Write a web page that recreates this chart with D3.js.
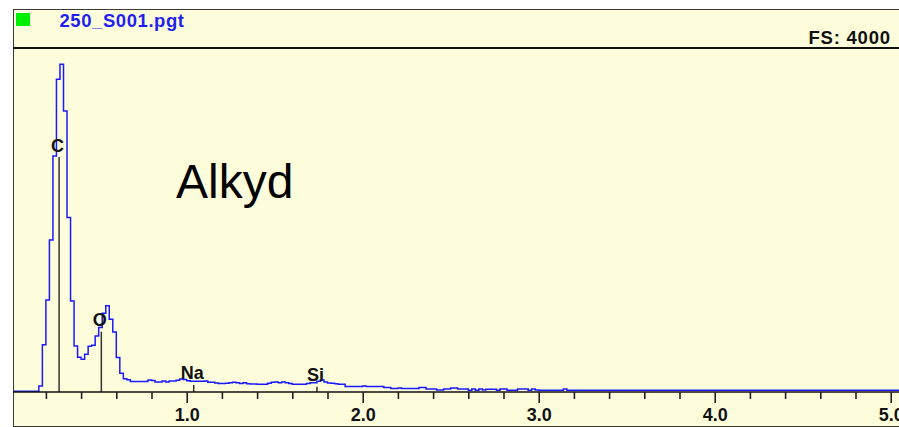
<!DOCTYPE html>
<html>
<head>
<meta charset="utf-8">
<script src="https://cdn.jsdelivr.net/npm/d3@7"></script>
<style>
  html, body { margin: 0; padding: 0; background: #ffffff; }
  svg { display: block; }
</style>
</head>
<body>
<div id="chart"></div>
<script>
// ---------------- DATA ----------------
const fileName = "250_S001.pgt";
const fullScaleLabel = "FS: 4000";
const annotation = "Alkyd";
const channelWidth = 0.02; // keV per channel
// counts per 20 eV channel, starting at 0 keV
const counts = [
  0, 0, 0, 0, 0, 0, 0, 0, 62, 542,
  1065, 1764, 2744, 3638, 3813, 3268, 2025, 1053, 528, 396,
  373, 431, 525, 536, 645, 743, 909, 997, 840, 691,
  393, 210, 146, 134, 113, 113, 113, 113, 113, 130,
  126, 108, 108, 120, 108, 120, 120, 128, 143, 135,
  122, 117, 117, 117, 117, 120, 104, 104, 95, 90,
  90, 93, 100, 104, 100, 90, 100, 88, 85, 85,
  82, 82, 82, 93, 105, 108, 100, 108, 100, 90,
  82, 82, 82, 82, 90, 100, 100, 115, 130, 108,
  95, 93, 88, 82, 82, 55, 55, 55, 55, 55,
  62, 55, 55, 55, 55, 55, 43, 43, 31, 31,
  38, 31, 31, 31, 31, 31, 43, 43, 27, 27,
  27, 15, 15, 27, 27, 38, 38, 27, 27, 27,
  12, 27, 12, 27, 15, 23, 23, 23, 12, 27,
  27, 12, 12, 12, 27, 27, 27, 12, 27, 15,
  12, 12, 12, 12, 12, 12, 12, 27, 12, 12,
  12, 12, 12, 12, 12, 12, 12, 12, 12, 12,
  12, 12, 12, 12, 12, 12, 12, 12, 12, 12,
  12, 12, 12, 12, 12, 12, 12, 12, 12, 12,
  12, 12, 12, 12, 12, 12, 12, 12, 12, 12,
  12, 12, 12, 12, 12, 12, 12, 12, 12, 12,
  12, 12, 12, 12, 12, 12, 12, 12, 12, 12,
  12, 12, 12, 12, 12, 12, 12, 12, 12, 12,
  12, 12, 12, 12, 12, 12, 12, 12, 12, 12,
  12, 12, 12, 12, 12, 12, 12, 12, 12, 12,
  12, 12, 12
];
const markerNames = ["C", "O", "Na", "Si"];
const markerEnergies = [0.275, 0.515, 1.04, 1.74];
const markerHeights = [2740, 703, 82, 60];
const majorTicks = [1, 2, 3, 4, 5];
const majorTickLabels = ["1.0", "2.0", "3.0", "4.0", "5.0"];
const minorTicks = [0.2, 0.4, 0.6, 0.8, 1.2, 1.4, 1.6, 1.8, 2.2, 2.4, 2.6, 2.8,
                    3.2, 3.4, 3.6, 3.8, 4.2, 4.4, 4.6, 4.8];
const fullScale = 4000;

// ---------------- LAYOUT ----------------
const W = 899, H = 427;
const frameL = 13, frameT = 9, frameB = 426;
const headerLineY = 48;
const baseY = 392;
const bg = "#fdfddc";

const svg = d3.select("#chart").append("svg")
  .attr("width", W).attr("height", H);

svg.append("rect").attr("x", 0).attr("y", 0).attr("width", W).attr("height", H)
  .attr("fill", "#ffffff");

// frame
svg.append("rect")
  .attr("x", frameL + 0.5).attr("y", frameT + 0.5)
  .attr("width", W + 10).attr("height", frameB - frameT)
  .attr("fill", bg).attr("stroke", "#3a3a3a").attr("stroke-width", 1);

// header separator
svg.append("line")
  .attr("x1", frameL).attr("x2", W).attr("y1", headerLineY).attr("y2", headerLineY)
  .attr("stroke", "#111").attr("stroke-width", 2);

// green indicator
svg.append("rect").attr("x", 16).attr("y", 13).attr("width", 14).attr("height", 13)
  .attr("fill", "#00f000");

const fontFam = "Arial, 'Liberation Sans', Helvetica, sans-serif";

svg.append("text")
  .attr("x", 59.5).attr("y", 26.7)
  .attr("font-family", fontFam).attr("font-weight", "bold").attr("font-size", 18.5)
  .attr("fill", "#1f1ff0")
  .attr("textLength", 124.5).attr("lengthAdjust", "spacing")
  .text(fileName);

svg.append("text")
  .attr("x", 808.5).attr("y", 44)
  .attr("font-family", fontFam).attr("font-weight", "bold").attr("font-size", 18.5)
  .attr("fill", "#111")
  .attr("textLength", 81.5).attr("lengthAdjust", "spacing")
  .text(fullScaleLabel);

// scales
const x = d3.scaleLinear().domain([0, 5]).range([10.7, 890.7]);
const y = d3.scaleLinear().domain([0, fullScale]).range([baseY, headerLineY + 1]);

// clip for plot region
svg.append("defs").append("clipPath").attr("id", "plotclip")
  .append("rect").attr("x", frameL + 1).attr("y", headerLineY + 1)
  .attr("width", W - frameL).attr("height", baseY - headerLineY + 2);

// spectrum step trace
const pts = counts.map((c, i) => ({ e: i * channelWidth, c: c }));
pts.push({ e: counts.length * channelWidth, c: counts[counts.length - 1] });

const line = d3.line()
  .x(d => x(d.e))
  .y(d => y(d.c) - 0.8)
  .curve(d3.curveStepAfter);

svg.append("path")
  .datum(pts)
  .attr("clip-path", "url(#plotclip)")
  .attr("d", line)
  .attr("fill", "none")
  .attr("stroke", "#1a1aff")
  .attr("stroke-width", 1.5);

// element markers
const markers = markerNames.map((n, i) => ({ n, e: markerEnergies[i], h: markerHeights[i] }));
const mg = svg.append("g");
mg.selectAll("line").data(markers).enter().append("line")
  .attr("x1", d => x(d.e)).attr("x2", d => x(d.e))
  .attr("y1", d => y(d.h)).attr("y2", baseY)
  .attr("stroke", "#333").attr("stroke-width", 1.5);
mg.selectAll("text").data(markers).enter().append("text")
  .attr("x", d => x(d.e) - 1.5)
  .attr("y", d => y(d.h) - 5.5)
  .attr("text-anchor", "middle")
  .attr("font-family", fontFam).attr("font-weight", "bold").attr("font-size", 18)
  .attr("fill", "#111")
  .text(d => d.n);

// baseline
svg.append("line")
  .attr("x1", frameL).attr("x2", W).attr("y1", baseY).attr("y2", baseY)
  .attr("stroke", "#111").attr("stroke-width", 1.6);

// minor ticks
const minorAxis = d3.axisBottom(x).tickValues(minorTicks).tickSize(7).tickFormat("");
const gMinor = svg.append("g").attr("transform", `translate(0,${baseY})`).call(minorAxis);
gMinor.select(".domain").remove();
gMinor.selectAll(".tick line").attr("stroke", "#222").attr("stroke-width", 1.6);

// major ticks + labels
const majorAxis = d3.axisBottom(x).tickValues(majorTicks).tickSize(11)
  .tickFormat((d, i) => majorTickLabels[i]);
const gMajor = svg.append("g").attr("transform", `translate(0,${baseY})`).call(majorAxis);
gMajor.select(".domain").remove();
gMajor.selectAll(".tick line").attr("stroke", "#222").attr("stroke-width", 1.6);
gMajor.selectAll(".tick text")
  .attr("y", 28.7).attr("dy", 0)
  .attr("font-family", fontFam).attr("font-weight", "bold").attr("font-size", 18)
  .attr("fill", "#111");

// annotation
svg.append("text")
  .attr("x", 176).attr("y", 198)
  .attr("font-family", fontFam).attr("font-size", 48)
  .attr("fill", "#000")
  .text(annotation);
</script>
</body>
</html>
